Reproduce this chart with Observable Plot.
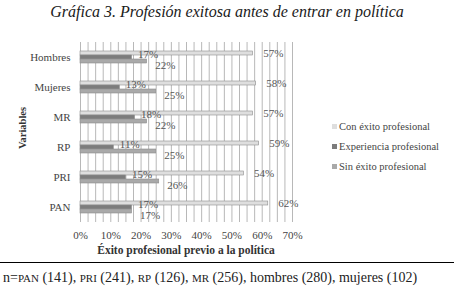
<!DOCTYPE html>
<html><head><meta charset="utf-8">
<script src="https://cdn.jsdelivr.net/npm/d3@7"></script>
<script src="https://cdn.jsdelivr.net/npm/@observablehq/plot@0.6"></script>
<style>
body{margin:0;background:#fff;width:454px;height:289px;overflow:hidden;position:relative;font-family:"Liberation Serif",serif;color:#222}
#title{position:absolute;top:2px;left:0;width:454px;text-align:center;font-style:italic;font-size:16px;line-height:20px;color:#1a1a1a}
#chart{position:absolute;top:22px;left:0}
#ylab{position:absolute;left:22px;top:128px;transform:translate(-50%,-50%) rotate(-90deg);font-weight:bold;font-size:10.5px;white-space:nowrap;color:#333}
#xlab{position:absolute;left:186px;top:250px;transform:translate(-50%,-50%);font-weight:bold;font-size:11.5px;white-space:nowrap;color:#333}
#legend{position:absolute;left:332px;top:119px;font-size:10.5px;color:#444}
#legend div{height:20px;line-height:16px;white-space:nowrap}
#legend span.sw{display:inline-block;width:5px;height:5px;margin-right:2px;vertical-align:1px}
#rule{position:absolute;top:262px;left:0;width:454px;border-top:1px solid #000}
#foot{position:absolute;top:270px;left:3px;font-size:14px;white-space:nowrap;line-height:16px}
#foot .sc{font-size:11px}
</style></head>
<body>
<div id="title"></div>
<div id="chart"></div>
<div id="ylab"></div>
<div id="xlab"></div>
<div id="legend"></div>
<div id="rule"></div>
<div id="foot"></div>
<script>
const titleText = "Gráfica 3. Profesión exitosa antes de entrar en política";
const yTitle = "Variables";
const xTitle = "Éxito profesional previo a la política";
const categories = ["Hombres","Mujeres","MR","RP","PRI","PAN"];
const series = ["Con éxito profesional","Experiencia profesional","Sin éxito profesional"];
const conExito = [57,58,57,59,54,62];
const experiencia = [17,13,18,11,15,17];
const sinExito = [22,25,22,25,26,17];
const xTicks = [0,10,20,30,40,50,60,70];
const gridVals = d3.range(0, 70.01, 2.5);
const colors = ["#dedede","#7c7c7c","#a9a9a9"];
const footParts = [["n=",false],["PAN",true],[" (141), ",false],["PRI",true],[" (241), ",false],["RP",true],[" (126), ",false],["MR",true],[" (256), hombres (280), mujeres (102)",false]];

document.getElementById("title").textContent = titleText;
document.getElementById("ylab").textContent = yTitle;
document.getElementById("xlab").textContent = xTitle;

const valuesBySeries = [conExito, experiencia, sinExito];
const rows = [];
categories.forEach((c,i)=>series.forEach((s,j)=>rows.push({cat:c, serie:s, value:valuesBySeries[j][i]})));

const chart = Plot.plot({
  width:454, height:235,
  marginLeft:80, marginRight:162, marginTop:20, marginBottom:35,
  style:{fontFamily:"Liberation Serif", fontSize:"11px", color:"#444", background:"transparent"},
  x:{domain:[0,70], ticks:xTicks, tickFormat:d=>d+"%", tickSize:0, tickPadding:9, label:null},
  fy:{domain:categories, padding:0, tickSize:0, tickPadding:10, label:null},
  y:{domain:series, paddingInner:0.1, paddingOuter:1.9, axis:null},
  color:{domain:series, range:colors},
  marks:[
    Plot.ruleX(gridVals, {x:d=>d, stroke:"#b8b8b8", strokeWidth:1}),
    Plot.barX(rows, {x:"value", y:"serie", fy:"cat", fill:"serie", stroke:"#8c8c8c", strokeWidth:0.6}),
    Plot.text(rows.filter(d=>d.serie===series[0]), {x:"value", y:"serie", fy:"cat", text:d=>d.value+"%", textAnchor:"start", dx:10, fill:"#555"}),
    Plot.text(rows.filter(d=>d.serie===series[1]), {x:"value", y:"serie", fy:"cat", text:d=>d.value+"%", textAnchor:"start", dx:6, dy:-3, fill:"#555"}),
    Plot.text(rows.filter(d=>d.serie===series[2]), {x:"value", y:"serie", fy:"cat", text:d=>d.value+"%", textAnchor:"start", dx:8, dy:4, fill:"#555"})
  ]
});
document.getElementById("chart").appendChild(chart);

const leg = document.getElementById("legend");
series.forEach((s,j)=>{
  const row = document.createElement("div");
  const sw = document.createElement("span"); sw.className="sw"; sw.style.background=colors[j];
  row.appendChild(sw); row.appendChild(document.createTextNode(s));
  leg.appendChild(row);
});
const foot = document.getElementById("foot");
footParts.forEach(([t,sc])=>{
  const sp = document.createElement("span"); sp.textContent=t; if(sc) sp.className="sc"; foot.appendChild(sp);
});
</script>
</body></html>
